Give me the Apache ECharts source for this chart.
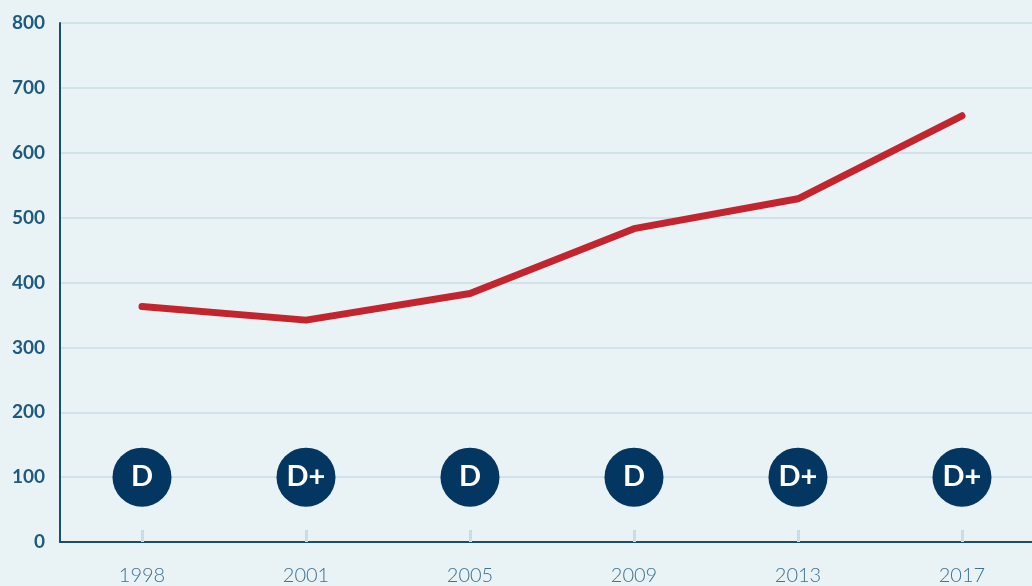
<!DOCTYPE html>
<html lang="en">
<head>
  <meta charset="UTF-8">
  <title>Chart</title>
  <script src="https://cdn.jsdelivr.net/npm/echarts@6/dist/echarts.min.js"></script>
  <style>
    html, body { margin: 0; padding: 0; background: #e9f2f5; }
    #main { width: 1032px; height: 586px; }
  </style>
</head>
<body>
  <div id="main"></div>
  <script>
    var years = ['1998', '2001', '2005', '2009', '2013', '2017']
    var values = [363, 342, 383, 483, 529, 657]
    var grades = ['D', 'D+', 'D', 'D', 'D+', 'D+']
    var gradeLevel = 100 // grade circles sit on the 100 line

    // x is the year's index; the axis runs past the right edge like the original
    var lineData = values.map(function (v, i) { return [i, v] })
    var gradeData = grades.map(function (g, i) {
      return { value: [i, gradeLevel], grade: g }
    })
    var yearIdx = years.map(function (y, i) { return i })

    var chart = echarts.init(document.getElementById('main'))
    var option = {
      backgroundColor: '#e9f2f5',
      animation: false,
      grid: { left: 60, top: 23, right: 0, height: 520 },
      xAxis: {
        type: 'value',
        min: -0.5,
        max: 5.427,
        splitLine: { show: false },
        axisLine: { show: true, onZero: false, lineStyle: { color: '#1b4d6e', width: 2 } },
        axisTick: { show: true, inside: true, customValues: yearIdx, length: 12, lineStyle: { color: '#c8dde4', width: 3 } },
        axisLabel: {
          customValues: yearIdx,
          formatter: function (v) { return years[Math.round(v)] },
          color: '#3f7391', fontFamily: 'Lato', fontWeight: 300, fontSize: 20, margin: 24
        }
      },
      yAxis: {
        type: 'value',
        min: 0,
        max: 800,
        interval: 100,
        axisLine: { show: true, onZero: false, lineStyle: { color: '#1b4d6e', width: 2 } },
        axisTick: { show: false },
        splitLine: { lineStyle: { color: '#c8dde4', width: 1.5 } },
        axisLabel: { color: '#1d5a7e', fontFamily: 'Lato', fontWeight: 'bold', fontSize: 19, margin: 15 }
      },
      series: [
        {
          type: 'line',
          data: lineData,
          symbol: 'none',
          lineStyle: { color: '#c3252f', width: 7, cap: 'round', join: 'round' },
          z: 3
        },
        {
          type: 'scatter',
          data: gradeData,
          symbol: 'circle',
          symbolSize: 59,
          itemStyle: { color: '#033762', opacity: 1 },
          label: {
            show: true,
            position: 'inside',
            formatter: function (p) { return p.data.grade },
            color: '#ffffff',
            fontFamily: 'Lato',
            fontWeight: 'bold',
            fontSize: 29
          },
          z: 4
        }
      ]
    }
    chart.setOption(option)
  </script>
</body>
</html>
